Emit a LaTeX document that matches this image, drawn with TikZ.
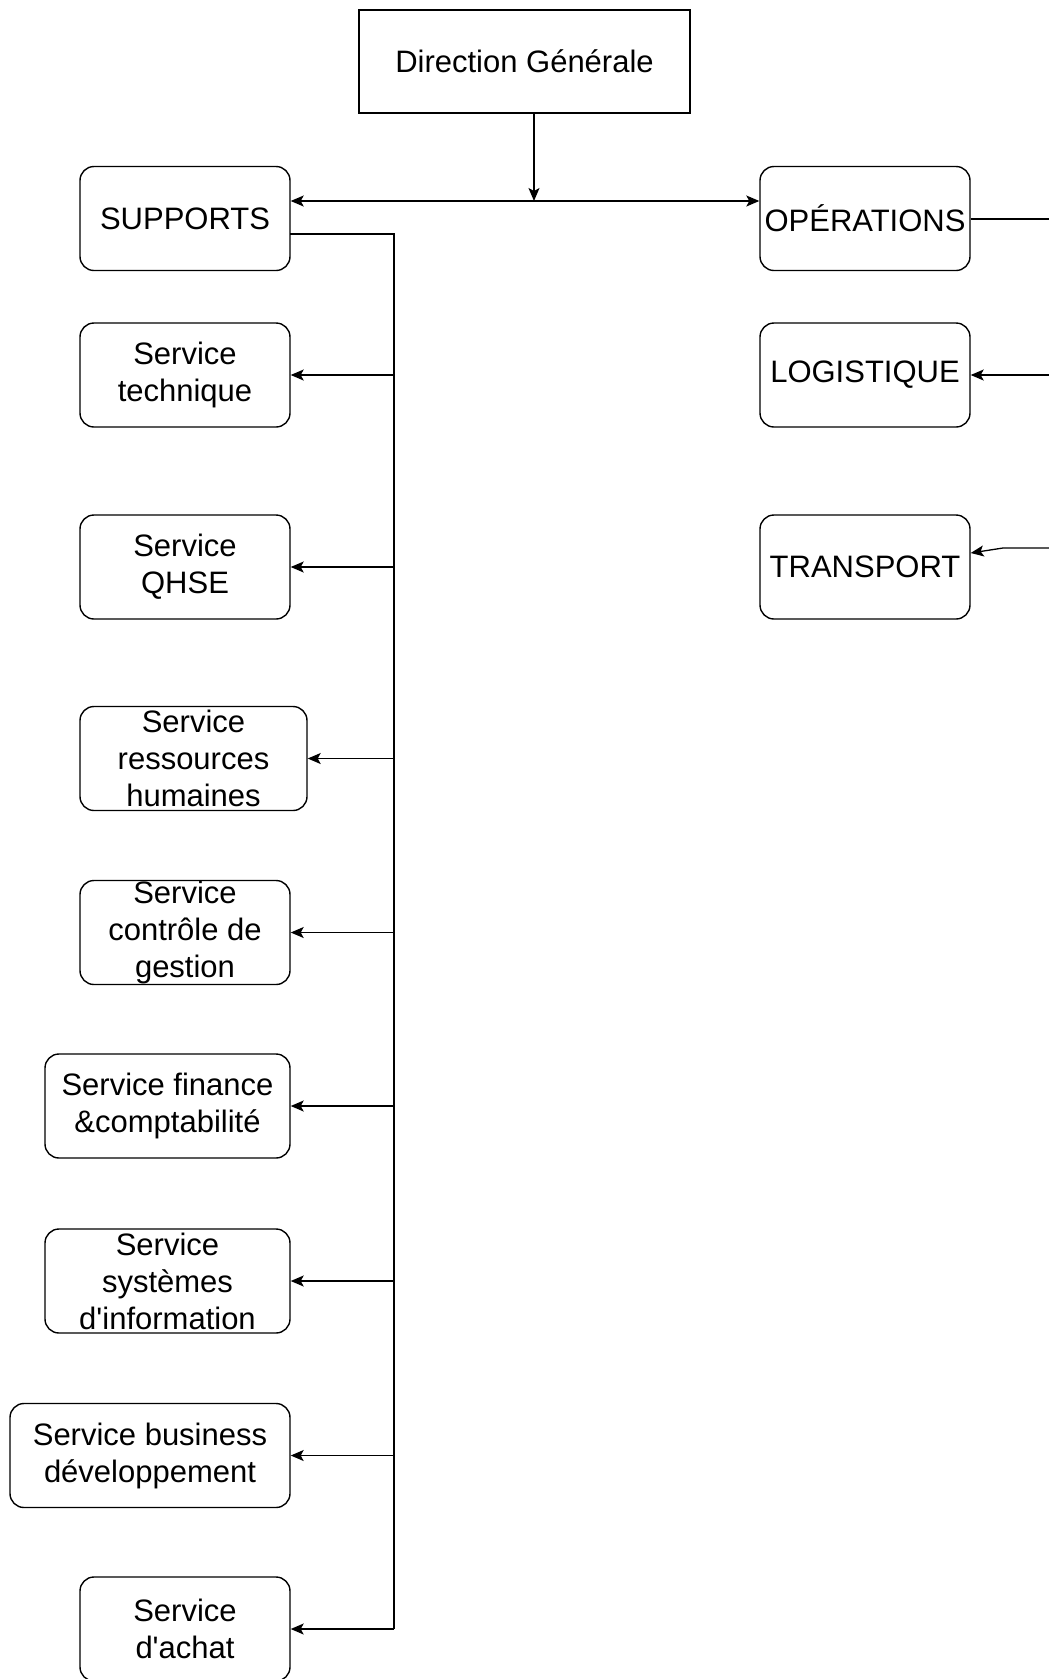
\documentclass[tikz,border=0pt]{standalone}
\usepackage{fontspec}
\setmainfont{Liberation Sans}
\usetikzlibrary{arrows.meta}
\begin{document}
\begin{tikzpicture}[x=1pt,y=-1pt,
  box/.style={draw, line width=1.4pt, rounded corners=14pt, align=center, inner sep=0pt,
    font=\fontsize{31}{37}\selectfont, minimum height=104pt},
  plainbox/.style={box, sharp corners},
  link/.style={line width=1.3pt},
  arr/.style={link, -{Stealth[length=13pt,width=11pt,inset=3pt]}},
  dblarr/.style={link, {Stealth[length=13pt,width=11pt,inset=3pt]}-{Stealth[length=13pt,width=11pt,inset=3pt]}}
]
\useasboundingbox (0,0) rectangle (1049,1679);

% top level
\node[plainbox, minimum width=331pt, minimum height=103pt] (dg) at (524.5,61.5) {Direction Générale};

% main branches
\node[box, minimum width=210pt] (sup) at (185,218.5) {SUPPORTS};
\node[box, minimum width=210pt] (ops) at (865,218.5) {OPÉRATIONS};
\node[box, minimum width=210pt] (log) at (865,375) {LOGISTIQUE};
\node[box, minimum width=210pt] (tra) at (865,567) {TRANSPORT};

% support services
\node[box, minimum width=210pt] (tech) at (185,375) {Service\\technique};
\node[box, minimum width=210pt] (qhse) at (185,567) {Service\\QHSE};
\node[box, minimum width=227pt] (rh) at (193.5,758.5) {Service\\ressources\\humaines};
\node[box, minimum width=210pt] (cdg) at (185,932.5) {Service\\contrôle de\\gestion};
\node[box, minimum width=245pt] (fin) at (167.5,1106) {Service finance\\\&comptabilité};
\node[box, minimum width=245pt] (si) at (167.5,1281) {Service\\systèmes\\d\textquotesingle information};
\node[box, minimum width=280pt] (bd) at (150,1455.5) {Service business\\développement};
\node[box, minimum width=210pt] (ach) at (185,1629) {Service\\d\textquotesingle achat};

% junction points
\coordinate (j) at (534,201);
\coordinate (supout) at (290,234);
\coordinate (bustop) at (394,234);
\coordinate (busbot) at (394,1629);
\coordinate (opsout) at (1049,219);
\coordinate (login) at (1049,375);
\coordinate (train) at (1049,548);
\coordinate (trabend) at (1003,548);

% direction to the two branches
\draw[arr] (dg.south -| j) -- (j);
\draw[dblarr] (sup.east |- j) -- (ops.west |- j);

% support bus
\draw[link] (supout) -- (bustop) -- (busbot);
\foreach \n in {tech,qhse,rh,cdg,fin,si,bd,ach}
  \draw[arr] (bustop |- \n) -- (\n.east);

% operations side
\draw[link] (ops.east |- opsout) -- (opsout);
\draw[arr] (login) -- (log.east);
\draw[arr] (train) -- (trabend) -- ([yshift=14pt]tra.east);
\end{tikzpicture}
\end{document}
